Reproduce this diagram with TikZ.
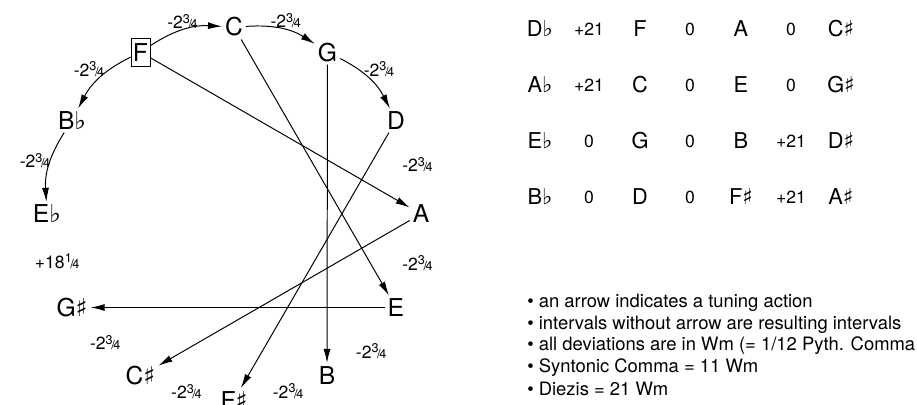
\documentclass[tikz,border=0pt]{standalone}
\usepackage{fontspec}
\setmainfont{TeX Gyre Heros}
\newfontfamily\musfont{DejaVu Sans}
\usetikzlibrary{arrows.meta}

% accidentals and the small fractions
\newcommand\mflat{{\musfont ♭}}
\newcommand\msharp{{\musfont ♯}}
\newcommand\smallfrac[2]{\raisebox{0.6ex}{\fontsize{9}{10}\selectfont #1}\kern-0.08em{\fontsize{9}{10}\selectfont /}\kern-0.08em{\fontsize{9}{10}\selectfont #2}}
\newcommand\dev{-2\smallfrac{3}{4}}

\tikzset{
  note/.style={font=\fontsize{17.5}{19}\selectfont, inner sep=2pt},
  devlabel/.style={font=\fontsize{12.5}{14}\selectfont, inner sep=0pt},
  cell/.style={font=\fontsize{15.5}{17}\selectfont, inner sep=0pt},
  cellnum/.style={font=\fontsize{12.5}{14}\selectfont, inner sep=0pt},
  remark/.style={font=\fontsize{13.1}{15}\selectfont, inner sep=0pt, anchor=west},
  tune/.style={-{Latex[length=10pt,width=5pt]}, line width=0.7pt},
}

\begin{document}
\begin{tikzpicture}[x=0.025cm, y=0.025cm]
  \useasboundingbox (0,-404) rectangle (917,0);

  \begin{scope}[shift={(234,-214)}]
    % 1. the circle of fifths, C on top
    \node[note] (C)  at (90:187)   {C};
    \node[note] (G)  at (60:187)   {G};
    \node[note] (D)  at (30:187)   {D};
    \node[note] (A)  at (0:187)    {A};
    \node[note] (E)  at (-30:187)  {E};
    \node[note] (B)  at (-60:186)  {B};
    \node[note] (Fs) at (-90:186)  {F\msharp};
    \node[note] (Cs) at (-120:187) {C\msharp};
    \node[note] (Gs) at (-150:187) {G\msharp};
    \node[note] (Eb) at (180:187)  {E\mflat};
    \node[note] (Bb) at (150:187)  {B\mflat};
    % starting note, boxed
    \node[note, draw, line width=0.5pt, inner xsep=1.5pt, minimum height=20pt] (F) at (120:187) {F};

    % 2. deviations of the fifths
    \node[devlabel] (dFC)   at (105:199)  {\dev};
    \node[devlabel] (dCG)   at (75:200)   {\dev};
    \node[devlabel] (dGD)   at (45:205)   {\dev};
    \node[devlabel] (dDA)   at (15:190)   {\dev};
    \node[devlabel] (dAE)   at (-15:190)  {\dev};
    \node[devlabel] (dEB)   at (-45:194)  {\dev};
    \node[devlabel] (dBFs)  at (-73:185)  {\dev};
    \node[devlabel] (dFsCs) at (-105:184) {\dev};
    \node[devlabel] (dCsGs) at (-135:182) {\dev};
    \node[devlabel] (dGsEb) at (-165:183) {+18\smallfrac{1}{4}};
    \node[devlabel] (dEbBb) at (165:206)  {\dev};
    \node[devlabel] (dBbF)  at (135:205)  {\dev};

    % 3. tuning actions
    \draw[tune] (F) to[bend left=18] (C);
    \draw[tune] (C) to[bend left=18] (G);
    \draw[tune] (G) to[bend left=18] (D);
    \draw[tune] (F) to[bend right=18] (Bb);
    \draw[tune] (Bb) to[bend right=18] (Eb);
    \draw[tune] (F) -- (A);
    \draw[tune] (C) -- (E);
    \draw[tune] (G) -- (B);
    \draw[tune] (D) -- (Fs);
    \draw[tune] (A) -- (Cs);
    \draw[tune] (E) -- (Gs);
  \end{scope}

  % 4. table of major thirds
  \foreach \na/\da/\nb/\db/\nc/\dc/\nd [count=\r] in {
      D\mflat/+21/F/0/A/0/C\msharp,
      A\mflat/+21/C/0/E/0/G\msharp,
      E\mflat/0/G/0/B/+21/D\msharp,
      B\mflat/0/D/0/F\msharp/+21/A\msharp} {
    \node[cell]    (t\r a) at (540, {-29-56*(\r-1)}) {\na};
    \node[cellnum] (t\r b) at (589, {-29-56*(\r-1)}) {\da};
    \node[cell]    (t\r c) at (640, {-29-56*(\r-1)}) {\nb};
    \node[cellnum] (t\r d) at (690, {-29-56*(\r-1)}) {\db};
    \node[cell]    (t\r e) at (741, {-29-56*(\r-1)}) {\nc};
    \node[cellnum] (t\r f) at (791, {-29-56*(\r-1)}) {\dc};
    \node[cell]    (t\r g) at (841, {-29-56*(\r-1)}) {\nd};
  }

  % 5. remarks
  \foreach \txt [count=\i] in {
      an arrow indicates a tuning action,
      intervals without arrow are resulting intervals,
      all deviations are in Wm (= 1/12 Pyth. Comma,
      Syntonic Comma = 11 Wm,
      Diezis = 21 Wm}
    \node[remark] (rem\i) at (527, {-303-21.5*(\i-1)}) {\textbullet\ \txt};
\end{tikzpicture}
\end{document}
